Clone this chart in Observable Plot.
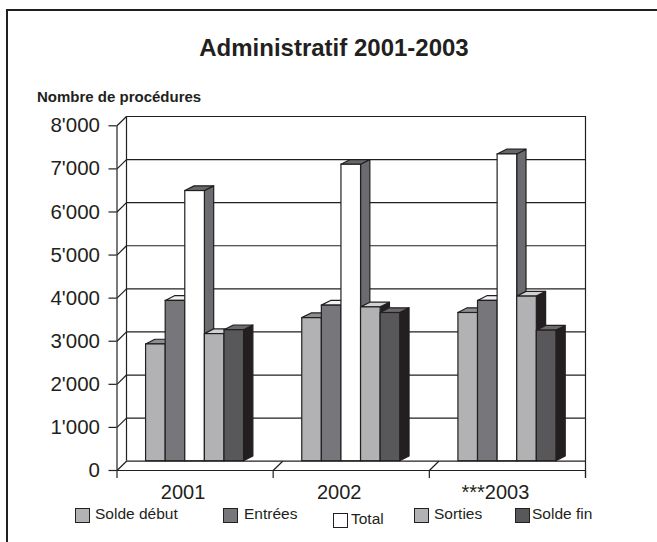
<!DOCTYPE html>
<html>
<head>
<meta charset="utf-8">
<script src="https://cdn.jsdelivr.net/npm/d3@7"></script>
<script src="https://cdn.jsdelivr.net/npm/@observablehq/plot@0.6"></script>
<style>
  body { margin: 0; background: #fff; }
  #root { position: relative; width: 657px; height: 542px; overflow: hidden; background: #fff;
          font-family: "Liberation Sans", Arial, Helvetica, sans-serif; color: #231f20; }
  #frame { position: absolute; left: 6px; top: 9px; width: 700px; height: 600px;
           border-left: 2px solid #231f20; border-top: 2px solid #231f20; }
  #title { position: absolute; left: 0; width: 668px; top: 34px; text-align: center;
           font-weight: bold; font-size: 24px; }
  #ylabel { position: absolute; left: 37px; top: 88px; font-weight: bold; font-size: 15px; }
  #chart { position: absolute; left: 0; top: 100px; }
  .leg { position: absolute; font-size: 15.5px; white-space: nowrap; }
  .sw { position: absolute; width: 15px; height: 15px; box-sizing: border-box; border: 1px solid #231f20; }
</style>
</head>
<body>
<div id="root">
  <div id="frame"></div>
  <div id="title">Administratif 2001-2003</div>
  <div id="ylabel">Nombre de procédures</div>
  <div id="chart"></div>
</div>
<script>
// ---- data ----
const years = ["2001", "2002", "2003"];
const yearLabels = ["2001", "2002", "***2003"];
const series = ["Solde début", "Entrées", "Total", "Sorties", "Solde fin"];
const soldeDebut = [2710, 3320, 3440];
const entrees = [3720, 3610, 3720];
const total = [6270, 6880, 7120];
const sorties = [2950, 3570, 3820];
const soldeFin = [3040, 3440, 3030];
const yTicks = [0, 1000, 2000, 3000, 4000, 5000, 6000, 7000, 8000];
const yTickLabels = ["0", "1'000", "2'000", "3'000", "4'000", "5'000", "6'000", "7'000", "8'000"];

// ---- styles ----
const frontColors = ["#b2b2b5", "#77777b", "#ffffff", "#b2b2b5", "#58585b"];
const topColors = ["#8e8e91", "#f2f2f2", "#68686b", "#d2d2d4", "#6a6a6d"];
const sideColors = ["#4a4a4c", "#4a4a4c", "#6c6c70", "#231f20", "#231f20"];
const ink = "#231f20";

// ---- layout (pixels) ----
const W = 657, H = 410, top0 = 100;
const mLeft = 116.5, mRight = 72, mTop = 116 - top0, mBottom = H - (460.7 - top0);
const pxX = (W - mLeft - mRight) / 3;          // px per category unit
const pxY = (H - mTop - mBottom) / 8000;        // px per value unit
const wallDx = 9.5 / pxX, wallDy = 9.3 / pxY;   // wall depth in data units
const barW = 19.6 / pxX, barDx = 9.3 / pxX, barDy = 4.7 / pxY;

const valuesBySeries = [soldeDebut, entrees, total, sorties, soldeFin];
const bars = [];
years.forEach((yr, i) => {
  series.forEach((s, j) => {
    const xl = i + 0.5 + (j - 2.5) * barW;
    bars.push({id: yr + s, year: yr, series: s, value: valuesBySeries[j][i],
               xl, xr: xl + barW, front: frontColors[j], top: topColors[j], side: sideColors[j]});
  });
});
const sidePts = bars.flatMap(b => [
  {id: b.id, x: b.xr, y1: 0, y2: b.value, c: b.side},
  {id: b.id, x: b.xr + barDx, y1: barDy, y2: b.value + barDy, c: b.side}
]);
const topPts = bars.flatMap(b => [
  {id: b.id, y: b.value, x1: b.xl, x2: b.xr, c: b.top},
  {id: b.id, y: b.value + barDy, x1: b.xl + barDx, x2: b.xr + barDx, c: b.top}
]);
const catIdx = [0, 1, 2, 3];

const plot = Plot.plot({
  width: W, height: H,
  marginLeft: mLeft, marginRight: mRight, marginTop: mTop, marginBottom: mBottom,
  x: {domain: [0, 3], axis: null},
  y: {domain: [0, 8000], axis: null},
  color: {type: "identity"},
  style: {fontFamily: "'Liberation Sans', Arial, sans-serif", color: ink, background: "transparent", overflow: "visible"},
  marks: [
    // back wall gridlines and floor back edge
    Plot.ruleY(yTicks, {x1: wallDx, x2: 3, stroke: ink, strokeWidth: 1.2}),
    Plot.ruleX([wallDx], {y1: 0, y2: 8000, stroke: ink, strokeWidth: 1.2}),
    // left wall diagonals
    Plot.link(yTicks, {x1: 0, y1: d => d - wallDy, x2: wallDx, y2: d => d, stroke: ink, strokeWidth: 1.2}),
    // front value axis
    Plot.ruleX([0], {y1: -wallDy, y2: 8000 - wallDy, stroke: ink, strokeWidth: 1.2}),
    Plot.ruleY(yTicks, {x1: -8 / pxX, x2: 0, dy: 9.3, stroke: ink, strokeWidth: 1.2}),
    Plot.text(yTicks, {x: 0, y: d => d, text: (d, i) => yTickLabels[i], dx: -17, dy: 9.3,
                       textAnchor: "end", fontSize: 20.5, fill: ink}),
    // floor front edge, right wall edge, category ticks
    Plot.ruleY([-wallDy], {x1: 0, x2: 3, stroke: ink, strokeWidth: 1.2}),
    Plot.ruleX([3], {y1: -wallDy - 8 / pxY, y2: 8000, stroke: ink, strokeWidth: 1.2}),
    Plot.ruleX(catIdx, {y1: -wallDy - 8 / pxY, y2: -wallDy, stroke: ink, strokeWidth: 1.2}),
    Plot.link([1, 2], {x1: d => d, y1: -wallDy, x2: d => d + wallDx, y2: 0, stroke: ink, strokeWidth: 1.2}),
    Plot.text(years, {x: (d, i) => i + 0.5, y: -wallDy, text: (d, i) => yearLabels[i],
                      dx: -12, dy: 22, fontSize: 20, fill: ink}),
    // 3D bars: side faces, top faces, front faces
    Plot.areaY(sidePts, {x: "x", y1: "y1", y2: "y2", z: "id", fill: "c", stroke: ink, strokeWidth: 1.2}),
    Plot.areaX(topPts, {y: "y", x1: "x1", x2: "x2", z: "id", fill: "c", stroke: ink, strokeWidth: 1.2}),
    Plot.rectY(bars, {x1: "xl", x2: "xr", y1: 0, y2: "value", fill: "front", stroke: ink, strokeWidth: 1.2})
  ]
});
document.getElementById("chart").appendChild(plot);

// ---- legend ----
const legX = [[75, 95], [223, 244], [333, 351], [414, 434], [515, 532]];
const legDy = [0, 0, 5, 0, 0];
const root = document.getElementById("root");
series.forEach((s, j) => {
  const sw = document.createElement("div");
  sw.className = "sw";
  sw.style.left = legX[j][0] + "px";
  sw.style.top = (508 + legDy[j]) + "px";
  sw.style.background = frontColors[j];
  root.appendChild(sw);
  const t = document.createElement("div");
  t.className = "leg";
  t.style.left = legX[j][1] + "px";
  t.style.top = (505 + legDy[j]) + "px";
  t.textContent = s;
  root.appendChild(t);
});
</script>
</body>
</html>
